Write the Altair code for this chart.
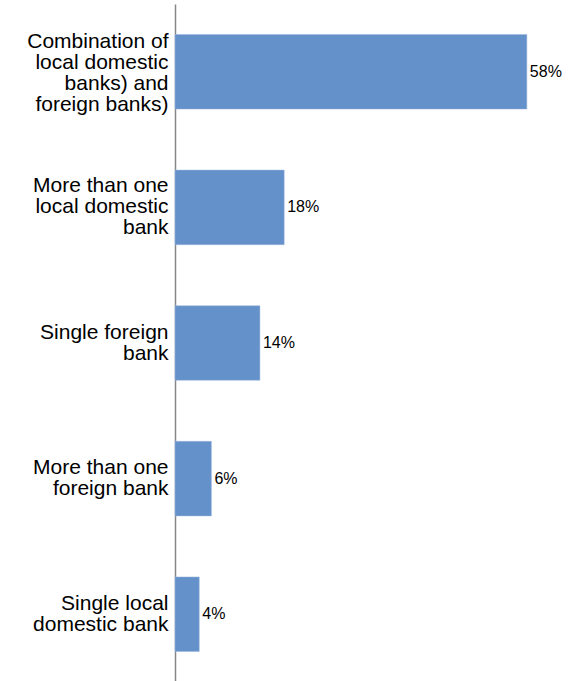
import altair as alt
import pandas as pd

categories = [
    "Combination of|local domestic|banks) and|foreign banks)",
    "More than one|local domestic|bank",
    "Single foreign|bank",
    "More than one|foreign bank",
    "Single local|domestic bank",
]
values = [0.58, 0.18, 0.14, 0.06, 0.04]
value_labels = ["58%", "18%", "14%", "6%", "4%"]

df = pd.DataFrame({"cat": categories, "val": values, "lbl": value_labels})

LH = 21
nl = "length(split(datum.value, '|'))"
label_offset = {
    "condition": [
        {"test": f"{nl} == 4", "value": -1.5 * LH + 2},
        {"test": f"{nl} == 3", "value": -1.0 * LH},
        {"test": f"{nl} == 2", "value": -0.5 * LH},
    ],
    "value": 0,
}

y = alt.Y(
    "cat:N",
    sort=categories,
    scale=alt.Scale(paddingInner=0.45, paddingOuter=0.225),
    axis=alt.Axis(
        title=None,
        labelExpr="split(datum.label, '|')",
        labelFont="Liberation Sans",
        labelFontSize=21,
        labelColor="#000000",
        labelAlign="right",
        labelPadding=7,
        labelLineHeight=LH,
        labelLimit=250,
        labelOffset=label_offset,
        ticks=False,
        domainColor="#868686",
        domainWidth=1.5,
        grid=False,
    ),
)
x = alt.X("val:Q", scale=alt.Scale(domain=[0, 0.6]), axis=None)

bars = alt.Chart(df).mark_bar(color="#6591CA", stroke="#9DB7DE", strokeWidth=0.5).encode(x=x, y=y)
text = alt.Chart(df).mark_text(
    align="left", baseline="middle", dx=3, font="Liberation Sans", fontSize=16, color="#000000"
).encode(x=x, y=y, text="lbl:N")

chart = (
    alt.layer(bars, text)
    .properties(
        width=364,
        height=678,
        autosize=alt.AutoSizeParams(type="none"),
        padding={"left": 175, "top": 4, "right": 30, "bottom": 0},
        view=alt.ViewBackground(stroke=None, strokeWidth=0),
    )
    .configure_view(stroke=None, strokeWidth=0)
    .configure(background="white")
)

chart.save("out.html", embed_options={"renderer": "svg", "actions": False})
